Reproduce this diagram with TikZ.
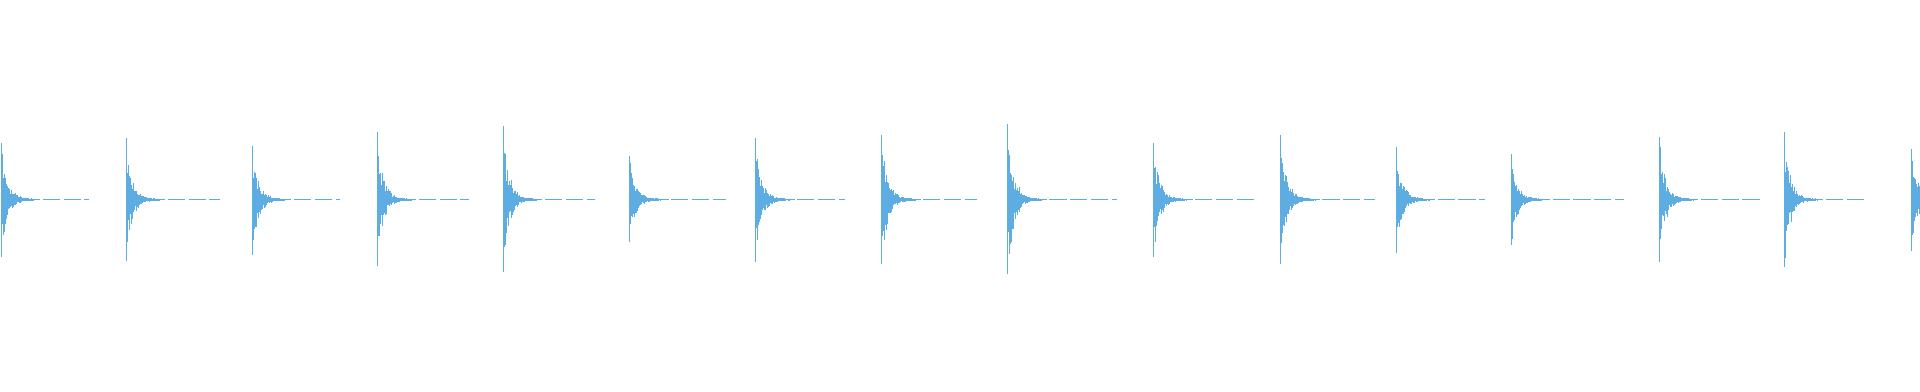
\documentclass[tikz,border=0pt]{standalone}
\usetikzlibrary{calc}
\definecolor{W1}{HTML}{5DADE2}
\tikzset{wave/.style={W1,line width=0.6pt}}
\begin{document}
\begin{tikzpicture}[x=1pt,y=-1pt]
  \useasboundingbox (0,0) rectangle (1568,320);
  \pgfmathsetseed{7}
  % pulses: start / top / bottom / tail end
  \foreach \xs/\yt/\yb/\xe in {1/117/210/73, 103/113/213/180, 206/119/208/278,
      308/108/217/383, 411/103/222/486, 514/127/198/593, 617/113/214/690,
      720/110/216/798, 823/101/224/912, 942/117/210/1024, 1046/110/216/1123,
      1140/120/207/1213, 1234/126/200/1326, 1355/112/214/1437,
      1457/108/218/1524, 1561/122/205/1568} {
    \coordinate (p) at (\xs,163);
    \draw[wave,line width=0.35pt,dash pattern=on 14pt off 3pt] (p) -- (\xe,163);
    \draw[wave] (\xs,\yt) -- (\xs,\yb);
    \foreach \i in {1,...,45} {
      \pgfmathsetmacro{\ampt}{(163-\yt)*exp(-\i/7)*(0.4+0.6*rnd)+0.6}
      \pgfmathsetmacro{\ampb}{(\yb-163)*exp(-\i/7)*(0.4+0.6*rnd)+0.6}
      \draw[wave] ($(p)+(0.7*\i,-\ampt)$) -- ($(p)+(0.7*\i,\ampb)$);
    }
  }
\end{tikzpicture}
\end{document}
